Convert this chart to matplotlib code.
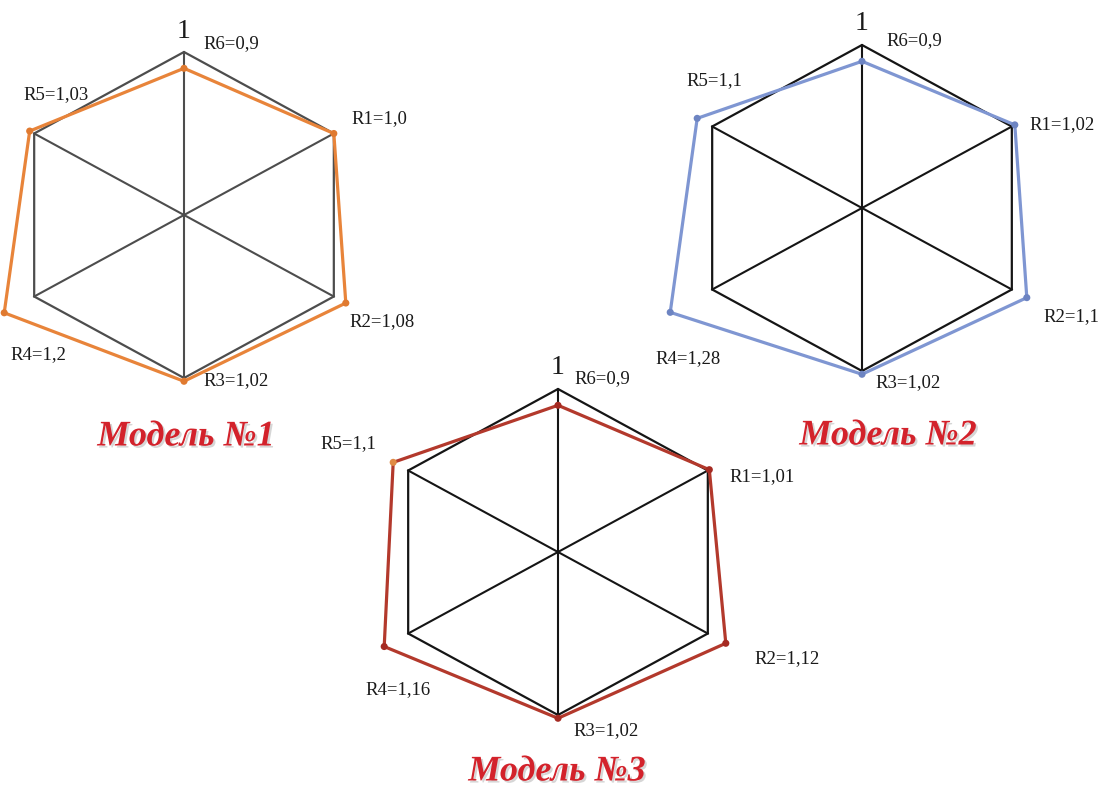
import numpy as np
import matplotlib
matplotlib.use("Agg")
import matplotlib.pyplot as plt
import matplotlib.patheffects as pe

# data
axes_names = ["R1", "R2", "R3", "R4", "R5", "R6"]
angles_deg = [30, -30, -90, 210, 150, 90]
model1 = [1.0, 1.08, 1.02, 1.2, 1.03, 0.9]
model2 = [1.02, 1.1, 1.02, 1.28, 1.1, 0.9]
model3 = [1.01, 1.12, 1.02, 1.16, 1.1, 0.9]
titles = ["Модель №1", "Модель №2", "Модель №3"]

# layout (pixel units, y down)
RX, RY = 173, 163
centers = [(184, 215), (862, 208), (558, 552)]
title_pos = [(186, 437), (888, 436), (557, 772)]
grid_colors = ["#4d4d4d", "#151515", "#151515"]
line_colors = ["#e8843a", "#7f96d2", "#b3392c"]
marker_colors = [
    ["#e07a30"] * 6,
    ["#6d84c2"] * 6,
    ["#a52a22", "#a52a22", "#a52a22", "#a52a22", "#e08a45", "#a52a22"],
]
# label offsets from data point: (dx, dy)
label_offsets = [
    [(18, -15), (4, 19), (19, -1), (6, 42), (-6, -36), (19, -25)],
    [(15, 0), (17, 19), (13, 8), (-15, 46), (-11, -38), (24, -21)],
    [(20, 7), (29, 15), (15, 12), (-19, 43), (-73, -19), (16, -27)],
]

fig = plt.figure(figsize=(11.05, 7.87), dpi=100)
ax = fig.add_axes([0, 0, 1, 1])
ax.set_xlim(0, 1105)
ax.set_ylim(787, 0)
ax.axis("off")

ang = np.radians(angles_deg)


def draw_model(i, values):
    cx, cy = centers[i]
    hx = cx + RX * np.cos(ang)
    hy = cy - RY * np.sin(ang)
    # hexagon grid
    ax.plot(np.append(hx, hx[0]), np.append(hy, hy[0]), color=grid_colors[i], lw=1.6, zorder=2)
    for k in range(3):
        ax.plot([hx[k], hx[k + 3]], [hy[k], hy[k + 3]], color=grid_colors[i], lw=1.5, zorder=2)
    # data polygon
    v = np.array(values)
    px = cx + RX * v * np.cos(ang)
    py = cy - RY * v * np.sin(ang)
    ax.plot(np.append(px, px[0]), np.append(py, py[0]), color=line_colors[i], lw=2.3, zorder=3)
    ax.scatter(px, py, s=26, c=marker_colors[i], zorder=4, linewidths=0)
    # labels
    for k, name in enumerate(axes_names):
        dx, dy = label_offsets[i][k]
        txt = f"{name}={str(values[k]).replace('.', ',')}"
        ax.text(px[k] + dx, py[k] + dy, txt, fontsize=13.5, family="Liberation Serif",
                ha="left", va="center", color="#1a1a1a", zorder=5)
    # scale mark on top vertex
    ax.text(hx[5], hy[5] - 21, "1", fontsize=20, family="Liberation Serif",
            ha="center", va="center", color="#1a1a1a")
    tx, ty = title_pos[i]
    ax.text(tx, ty, titles[i], fontsize=26, family="Liberation Serif", fontweight="bold",
            fontstyle="italic", color="#d3222b", ha="center", va="center",
            path_effects=[pe.withSimplePatchShadow(offset=(1.5, -1.5), shadow_rgbFace="#bbbbbb", alpha=0.6)])


for i, vals in enumerate([model1, model2, model3]):
    draw_model(i, vals)

fig.savefig("out.png", dpi=100, facecolor="white")
